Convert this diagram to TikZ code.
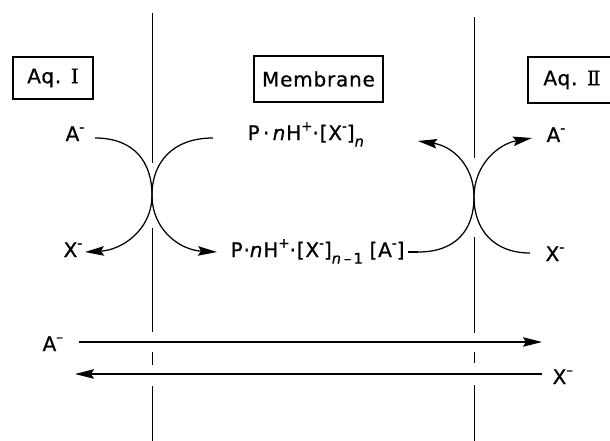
\documentclass[tikz,border=0pt]{standalone}
\usepackage{fontspec}
\setmainfont{DejaVu Sans}[LetterSpace=4,FakeBold=0.8]
\newfontfamily\romnum{DejaVu Serif}[FakeBold=0.8]
\usetikzlibrary{arrows.meta}
\newcommand{\myup}[1]{\raisebox{0.85ex}{\fontsize{13.5}{13.5}\selectfont #1}}
\newcommand{\mydn}[1]{\raisebox{-0.6ex}{\fontsize{14.5}{14.5}\selectfont #1}}
\begin{document}
\begin{tikzpicture}[x=1pt,y=-1pt,
  font=\fontsize{20}{22}\selectfont,
  line width=1.25pt,
  lbl/.style={inner sep=0pt,anchor=base west},
  boxnode/.style={draw,line width=1.2pt,inner sep=0pt},
  flow/.style={-{Stealth[length=19pt,width=9.5pt,inset=3pt]}},
  memline/.style={line width=1pt}]
\useasboundingbox (0,0) rectangle (610,441);

% membranes
\draw[memline] (152,13) -- (152,163);
\draw[memline] (152,228) -- (152,332);
\draw[memline] (152,352) -- (152,365);
\draw[memline] (152,386) -- (152,441);
\draw[memline] (474,17) -- (474,158);
\draw[memline] (474,237) -- (474,333);
\draw[memline] (474,352) -- (474,363);
\draw[memline] (474,385) -- (474,441);

% boxes
\node[boxnode,minimum width=80pt,minimum height=42pt] (aq1) at (53,78) {Aq. {\romnum Ⅰ}};
\node[boxnode,minimum width=129pt,minimum height=46pt] (mem) at (318.5,79) {Membrane};
\begin{scope}
\clip (0,0) rectangle (610,441);
\node[boxnode,minimum width=88pt,minimum height=46pt] (aq2) at (572,80) {Aq. {\romnum Ⅱ}};
\end{scope}

% labels
\node[lbl] (aL) at (65,141) {A\myup{-}};
\node[lbl] (xL) at (63,257) {X\myup{-}};
\node[lbl] (pTop) at (247,140) {P\,·\,\textit{n}H\myup{+}·[X\myup{-}]\mydn{\textit{n}}};
\node[lbl] (pBot) at (230,257) {P·\textit{n}H\myup{+}·[X\myup{-}]\mydn{\textit{n}\,–\,1}\,\,[A\myup{-}]};
\node[lbl] (aR) at (546,142) {A\myup{-}};
\node[lbl] (xR) at (545,261) {X\myup{-}};
\node[lbl] (aLong) at (42,351) {A\myup{–}};
\node[lbl] (xLong) at (552,384) {X\myup{–}};

% coordinates
\coordinate (c1s) at (95,138);
\coordinate (c1e) at (85,252);
\coordinate (c2s) at (213,138);
\coordinate (c2e) at (217,252);
\coordinate (c3s) at (418,252);
\coordinate (c3e) at (418,141);
\coordinate (c4s) at (530,253);
\coordinate (c4e) at (532,138);
\coordinate (t1) at (152,195);
\coordinate (t2) at (474,197);
\coordinate (aS) at (79,342);
\coordinate (aE) at (542,342);
\coordinate (xS) at (542,374);
\coordinate (xE) at (75,374);

% exchange arcs, left interface
\draw[flow] (c1s) .. controls (135,138) and (152,163) .. (t1)
  .. controls (152,230) and (122,250) .. (c1e);
\draw[flow] (c2s) .. controls (172,138) and (152,163) .. (t1)
  .. controls (152,230) and (180,250) .. (c2e);
% exchange arcs, right interface
\draw ([xshift=3pt]pBot.east |- c3s) -- (c3s);
\draw[flow] (c3s) .. controls (456,252) and (474,230) .. (t2)
  .. controls (474,165) and (452,146) .. (c3e);
\draw[flow] (c4s) .. controls (494,253) and (474,230) .. (t2)
  .. controls (474,165) and (498,144) .. (c4e);

% long arrows
\draw[flow] (aS) -- (aE);
\draw[flow] (xS) -- (xE);
\end{tikzpicture}
\end{document}
